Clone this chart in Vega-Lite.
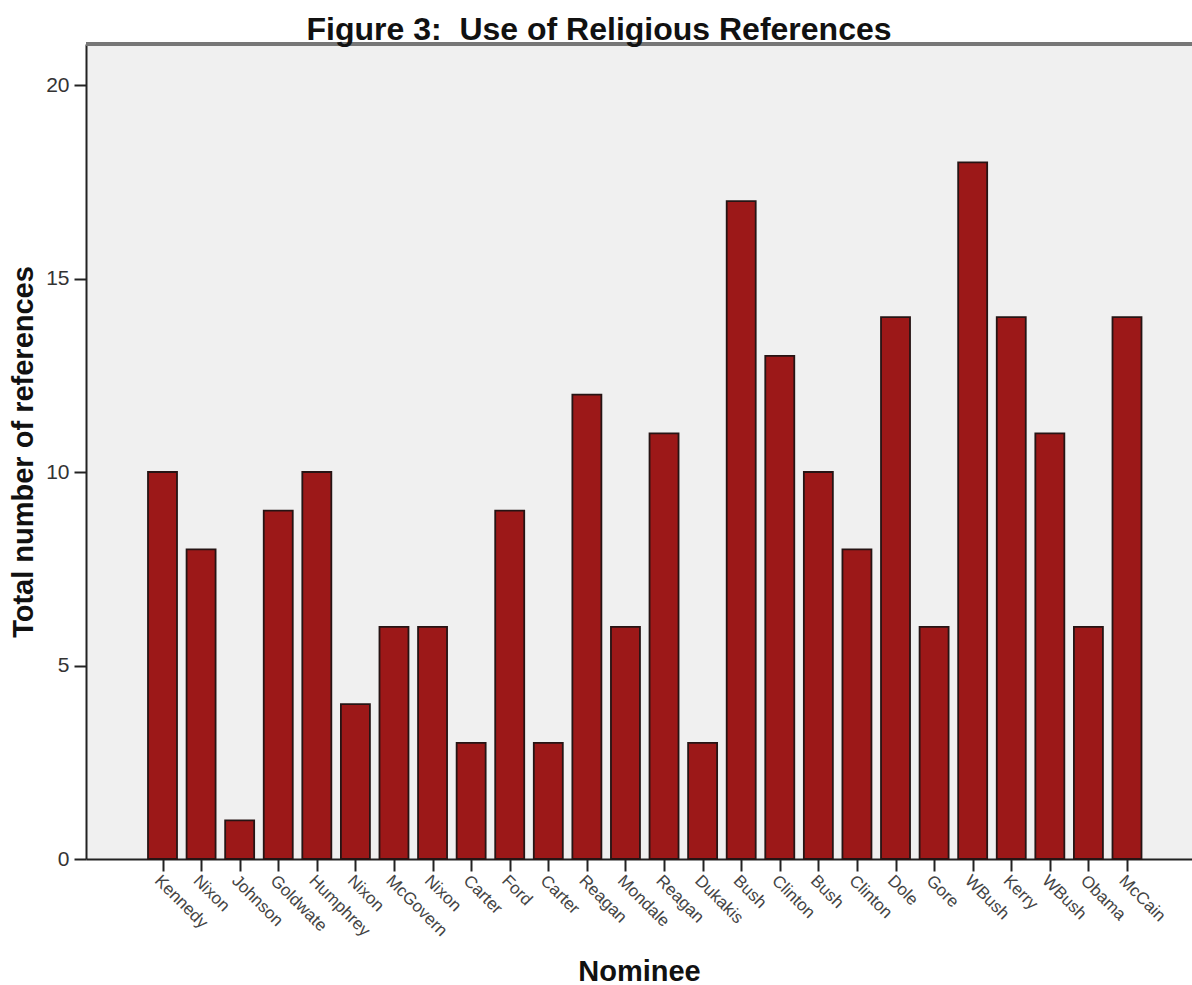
{
  "$schema": "https://vega.github.io/schema/vega-lite/v6.json",
  "autosize": "none",
  "padding": {"left": 86, "top": 44, "right": 0, "bottom": 126},
  "width": 1106,
  "height": 815,
  "background": "white",
  "title": {
    "text": "Figure 3: \u00a0Use of Religious References",
    "font": "Liberation Sans",
    "fontSize": 32,
    "fontWeight": "bold",
    "color": "#111",
    "anchor": "middle",
    "frame": "group",
    "dx": -40,
    "dy": 33,
    "offset": 4,
    "baseline": "alphabetic"
  },
  "data": {
    "values": [
      {"idx": 1, "nominee": "Kennedy", "refs": 10},
      {"idx": 2, "nominee": "Nixon", "refs": 8},
      {"idx": 3, "nominee": "Johnson", "refs": 1},
      {"idx": 4, "nominee": "Goldwate", "refs": 9},
      {"idx": 5, "nominee": "Humphrey", "refs": 10},
      {"idx": 6, "nominee": "Nixon", "refs": 4},
      {"idx": 7, "nominee": "McGovern", "refs": 6},
      {"idx": 8, "nominee": "Nixon", "refs": 6},
      {"idx": 9, "nominee": "Carter", "refs": 3},
      {"idx": 10, "nominee": "Ford", "refs": 9},
      {"idx": 11, "nominee": "Carter", "refs": 3},
      {"idx": 12, "nominee": "Reagan", "refs": 12},
      {"idx": 13, "nominee": "Mondale", "refs": 6},
      {"idx": 14, "nominee": "Reagan", "refs": 11},
      {"idx": 15, "nominee": "Dukakis", "refs": 3},
      {"idx": 16, "nominee": "Bush", "refs": 17},
      {"idx": 17, "nominee": "Clinton", "refs": 13},
      {"idx": 18, "nominee": "Bush", "refs": 10},
      {"idx": 19, "nominee": "Clinton", "refs": 8},
      {"idx": 20, "nominee": "Dole", "refs": 14},
      {"idx": 21, "nominee": "Gore", "refs": 6},
      {"idx": 22, "nominee": "WBush", "refs": 18},
      {"idx": 23, "nominee": "Kerry", "refs": 14},
      {"idx": 24, "nominee": "WBush", "refs": 11},
      {"idx": 25, "nominee": "Obama", "refs": 6},
      {"idx": 26, "nominee": "McCain", "refs": 14}
    ]
  },
  "layer": [
    {
      "mark": {"type": "bar", "size": 29, "color": "#9c1818", "stroke": "#261414", "strokeWidth": 1.8},
      "encoding": {
        "x": {
          "field": "idx",
          "type": "quantitative",
          "scale": {"domain": [-0.983, 27.685], "nice": false, "zero": false, "padding": 0},
          "axis": {
            "title": "Nominee",
            "titleFont": "Liberation Sans",
            "titleFontSize": 29,
            "titleFontWeight": "bold",
            "titleColor": "#111",
            "titleY": 121,
            "titleBaseline": "alphabetic",
            "values": [1, 2, 3, 4, 5, 6, 7, 8, 9, 10, 11, 12, 13, 14, 15, 16, 17, 18, 19, 20, 21, 22, 23, 24, 25, 26],
            "labelExpr": "['Kennedy','Nixon','Johnson','Goldwate','Humphrey','Nixon','McGovern','Nixon','Carter','Ford','Carter','Reagan','Mondale','Reagan','Dukakis','Bush','Clinton','Bush','Clinton','Dole','Gore','WBush','Kerry','WBush','Obama','McCain'][datum.value - 1]",
            "labelAngle": 45,
            "labelAlign": "left",
            "labelBaseline": "top",
            "labelPadding": 1,
            "labelFont": "Liberation Sans",
            "labelFontSize": 17,
            "labelColor": "#444",
            "labelOverlap": false,
            "labelFlush": false,
            "grid": false,
            "tickSize": 12,
            "tickWidth": 2,
            "tickColor": "#222",
            "domainColor": "#222",
            "domainWidth": 2
          }
        },
        "y": {
          "field": "refs",
          "type": "quantitative",
          "scale": {"domain": [0, 21.06], "nice": false, "zero": true},
          "axis": {
            "title": "Total number of references",
            "titleFont": "Liberation Sans",
            "titleFontSize": 29,
            "titleFontWeight": "bold",
            "titleColor": "#111",
            "titleX": -54,
            "titleBaseline": "alphabetic",
            "values": [0, 5, 10, 15, 20],
            "grid": false,
            "labelFont": "Liberation Sans",
            "labelFontSize": 21,
            "labelColor": "#333",
            "labelPadding": 5,
            "tickSize": 12,
            "tickWidth": 2,
            "tickColor": "#222",
            "domainColor": "#222",
            "domainWidth": 2
          }
        }
      }
    },
    {
      "mark": {"type": "rule", "color": "#777", "strokeWidth": 3},
      "encoding": {"y": {"datum": 21.06}}
    }
  ],
  "config": {
    "view": {"fill": "#f0f0f0", "stroke": null}
  }
}
